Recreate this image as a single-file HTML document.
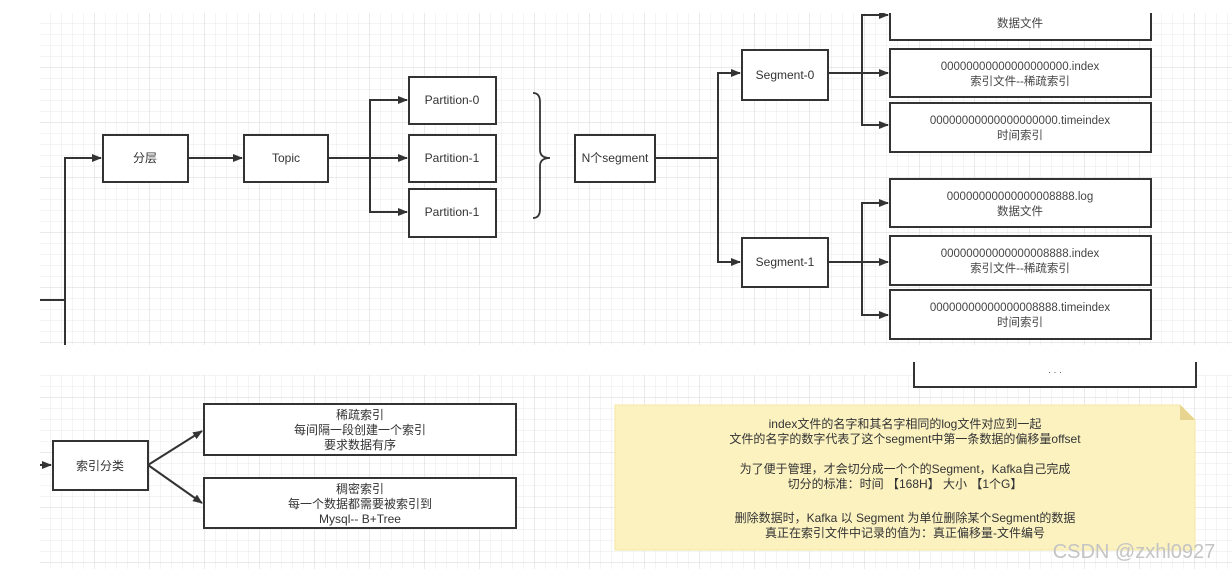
<!DOCTYPE html>
<html><head><meta charset="utf-8"><style>
html,body{margin:0;padding:0;background:#fff;width:1232px;height:569px;overflow:hidden}
svg{display:block}
text{font-family:"Liberation Sans","Noto Sans CJK SC",sans-serif;fill:#333;font-size:12px;text-anchor:middle}
.s{font-size:11.5px;fill:#444}
.w{font-size:20px;fill:#c4c4c4}
</style></head><body>
<svg width="1232" height="569" viewBox="0 0 1232 569" xmlns="http://www.w3.org/2000/svg">
<defs>
<pattern id="g" width="11" height="11" patternUnits="userSpaceOnUse" x="40" y="13">
<path d="M11 0V11M0 11H11" stroke="#e8e8e8" stroke-width="1" fill="none"/>
</pattern>
<pattern id="G" width="55" height="55" patternUnits="userSpaceOnUse" x="40" y="13">
<path d="M55 0V55M0 55H55" stroke="#d6d6d6" stroke-width="1" fill="none"/>
</pattern>
<marker id="a" markerWidth="10" markerHeight="8" refX="9" refY="4" orient="auto" markerUnits="userSpaceOnUse">
<path d="M0 0L10 4L0 8Z" fill="#333"/>
</marker>
</defs>
<rect x="40" y="13" width="1192" height="332" fill="url(#g)"/>
<rect x="40" y="13" width="1192" height="332" fill="url(#G)"/>
<rect x="40" y="375" width="1192" height="194" fill="url(#g)"/>
<rect x="40" y="375" width="1192" height="194" fill="url(#G)"/>

<g stroke="#333" stroke-width="2" fill="none">
<path d="M40 300H65V345"/>
<path d="M65 300V158H101" marker-end="url(#a)"/>
<path d="M188 158H242" marker-end="url(#a)"/>
<path d="M328 158H407" marker-end="url(#a)"/>
<path d="M370 158V100H407" marker-end="url(#a)"/>
<path d="M370 158V212H407" marker-end="url(#a)"/>
<path d="M533 93Q540 93 540 102V150Q540 158 550 158Q540 158 540 166V209Q540 218 533 218" stroke-width="1.8"/>
<path d="M655 158H718V73H740" marker-end="url(#a)"/>
<path d="M718 158V262H740" marker-end="url(#a)"/>
<path d="M828 73H888" marker-end="url(#a)"/>
<path d="M862 73V15H888" marker-end="url(#a)"/>
<path d="M862 73V125H888" marker-end="url(#a)"/>
<path d="M828 262H888" marker-end="url(#a)"/>
<path d="M862 262V203H888" marker-end="url(#a)"/>
<path d="M862 262V315H888" marker-end="url(#a)"/>
<path d="M40 465H51" marker-end="url(#a)"/>
<path d="M148 465L202 431" marker-end="url(#a)"/>
<path d="M148 465L202 503" marker-end="url(#a)"/>
<path d="M914 362V387H1196V362"/>
</g>

<g stroke="#333" stroke-width="2" fill="#fff">
<rect x="103" y="135" width="85" height="47"/>
<rect x="244" y="135" width="84" height="47"/>
<rect x="409" y="77" width="87" height="47"/>
<rect x="409" y="135" width="87" height="47"/>
<rect x="409" y="189" width="87" height="48"/>
<rect x="575" y="135" width="80" height="47"/>
<rect x="742" y="50" width="86" height="50"/>
<rect x="742" y="238" width="86" height="49"/>
<rect x="890" y="5" width="261" height="35"/>
<rect x="890" y="49" width="261" height="48"/>
<rect x="890" y="103" width="261" height="49"/>
<rect x="890" y="179" width="261" height="48"/>
<rect x="890" y="236" width="261" height="49"/>
<rect x="890" y="290" width="261" height="49"/>
<rect x="53" y="441" width="95" height="49"/>
<rect x="204" y="404" width="312" height="51"/>
<rect x="204" y="478" width="312" height="50"/>
</g>
<rect x="0" y="0" width="1232" height="13" fill="#fff"/>
<rect x="0" y="345" width="1232" height="16" fill="#fff"/>
<rect x="0" y="361" width="913" height="14" fill="#fff"/>
<rect x="1197" y="361" width="35" height="14" fill="#fff"/>
<rect x="915" y="361" width="280" height="25" fill="#fff"/>
<text x="1055" y="375" style="font-size:9px;fill:#555">· · ·</text>

<text x="145" y="162">分层</text>
<text x="286" y="162">Topic</text>
<text x="452" y="104">Partition-0</text>
<text x="452" y="162">Partition-1</text>
<text x="452" y="216">Partition-1</text>
<text x="615" y="162">N个segment</text>
<text x="785" y="79">Segment-0</text>
<text x="785" y="266">Segment-1</text>
<text class="s" x="1020" y="27">数据文件</text>
<text class="s" x="1020" y="70">00000000000000000000.index</text>
<text class="s" x="1020" y="85">索引文件--稀疏索引</text>
<text class="s" x="1020" y="124">00000000000000000000.timeindex</text>
<text class="s" x="1020" y="139">时间索引</text>
<text class="s" x="1020" y="200">00000000000000008888.log</text>
<text class="s" x="1020" y="215">数据文件</text>
<text class="s" x="1020" y="257">00000000000000008888.index</text>
<text class="s" x="1020" y="272">索引文件--稀疏索引</text>
<text class="s" x="1020" y="311">00000000000000008888.timeindex</text>
<text class="s" x="1020" y="326">时间索引</text>

<text x="100" y="470">索引分类</text>
<text x="360" y="419">稀疏索引</text>
<text x="360" y="434">每间隔一段创建一个索引</text>
<text x="360" y="449">要求数据有序</text>
<text x="360" y="493">稠密索引</text>
<text x="360" y="508">每一个数据都需要被索引到</text>
<text x="360" y="523">Mysql-- B+Tree</text>

<path d="M615 405H1180L1195 420V550H615Z" fill="#fbf2c0" stroke="#f3e7a4"/>
<path d="M1180 405L1195 420H1180Z" fill="#e6d48f"/>
<text x="905" y="428">index文件的名字和其名字相同的log文件对应到一起</text>
<text x="905" y="443">文件的名字的数字代表了这个segment中第一条数据的偏移量offset</text>
<text x="905" y="473">为了便于管理，才会切分成一个个的Segment，Kafka自己完成</text>
<text x="905" y="488">切分的标准：时间 【168H】  大小 【1个G】</text>
<text x="905" y="522">删除数据时，Kafka 以 Segment 为单位删除某个Segment的数据</text>
<text x="905" y="537">真正在索引文件中记录的值为：真正偏移量-文件编号</text>
<text class="w" x="1134" y="558">CSDN @zxhl0927</text>
</svg>
</body></html>
